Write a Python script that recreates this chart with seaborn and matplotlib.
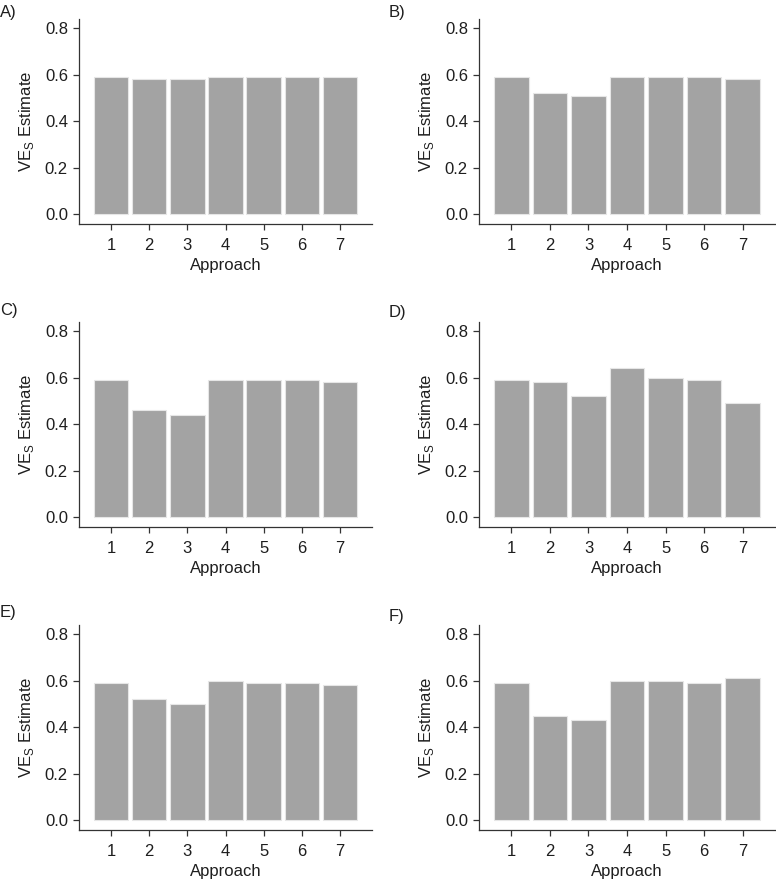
import pandas as pd
import numpy as np
import matplotlib
matplotlib.use("Agg")
import matplotlib.pyplot as plt
import seaborn as sns

# Bar heights (approaches 1-7)
approaches = ["1", "2", "3", "4", "5", "6", "7"]
panel_labels = ["A)", "B)", "C)", "D)", "E)", "F)"]
ve_a = [0.59, 0.58, 0.58, 0.59, 0.59, 0.59, 0.59]
ve_b = [0.59, 0.52, 0.51, 0.59, 0.59, 0.59, 0.58]
ve_c = [0.59, 0.46, 0.44, 0.59, 0.59, 0.59, 0.58]
ve_d = [0.59, 0.58, 0.52, 0.64, 0.60, 0.59, 0.49]
ve_e = [0.59, 0.52, 0.50, 0.60, 0.59, 0.59, 0.58]
ve_f = [0.59, 0.45, 0.43, 0.60, 0.60, 0.59, 0.61]
yticks = [0.0, 0.2, 0.4, 0.6, 0.8]

sns.set_style("ticks")
plt.rcParams['font.family'] = ['Liberation Sans', 'DejaVu Sans']
plt.rcParams['mathtext.fontset'] = 'custom'
plt.rcParams['mathtext.rm'] = 'Liberation Sans'

W, H = 776, 882
fig = plt.figure(figsize=(W / 100, H / 100), dpi=100)

# axes boxes in pixels: (left, top, right, bottom)
col_x = [(79, 372), (479, 775)]
row_y = [(19, 224), (322, 527), (625, 830)]
label_pos = [(0, 13), (389, 13), (0, 310), (389, 313), (0, 613), (389, 616)]

series = [ve_a, ve_b, ve_c, ve_d, ve_e, ve_f]
text_col = "#1e1e1e"
fs = 12

for i, vals in enumerate(series):
    r, c = divmod(i, 2)
    l, rt = col_x[c]
    t, b = row_y[r]
    ax = fig.add_axes([l / W, 1 - b / H, (rt - l) / W, (b - t) / H])
    df = pd.DataFrame({"Approach": approaches, "VE": vals})
    sns.barplot(data=df, x="Approach", y="VE", color="#A3A3A3", saturation=1,
                width=0.9, edgecolor="#E6E6E6", linewidth=0.8, ax=ax)
    ax.set_ylim(-0.043, 0.84)
    ax.set_xlim(-0.84, 6.84)
    ax.set_yticks(yticks)
    ax.set_yticklabels([f"{v:.1f}" for v in yticks])
    ax.set_xlabel("Approach", fontsize=fs, color=text_col, labelpad=4)
    ax.set_ylabel(r"VE$_\mathregular{S}$ Estimate", fontsize=fs, color=text_col, labelpad=6)
    ax.tick_params(labelsize=fs, colors="#333333", labelcolor=text_col, length=4, width=0.9)
    ax.tick_params(axis="x", pad=6)
    ax.tick_params(axis="y", pad=4)
    sns.despine(ax=ax)
    for s in ["left", "bottom"]:
        ax.spines[s].set_color("#333333")
        ax.spines[s].set_linewidth(0.9)
    lx, ly = label_pos[i]
    fig.text(lx / W, 1 - ly / H, panel_labels[i], fontsize=fs, color=text_col,
             va="center", ha="left")

fig.savefig("out.png", dpi=100, facecolor="white")
